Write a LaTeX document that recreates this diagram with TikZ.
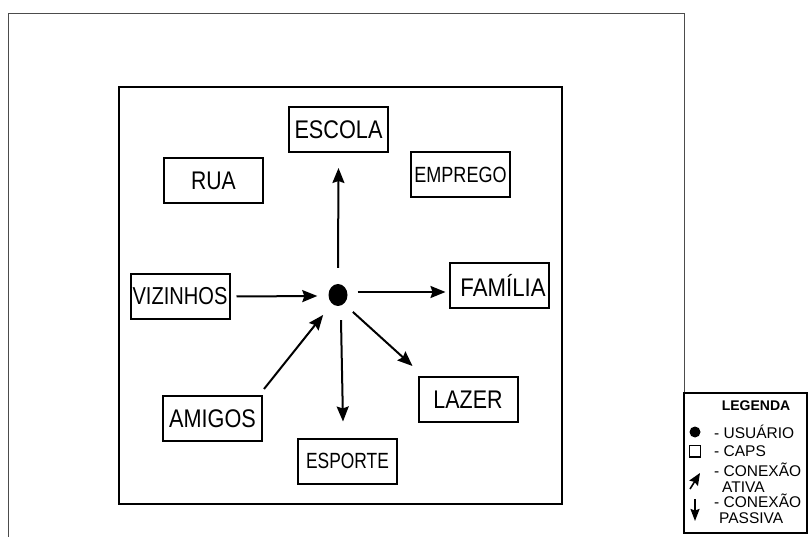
\documentclass[tikz,border=0pt]{standalone}
\usepackage{fontspec}
\setmainfont{Liberation Sans}
\usetikzlibrary{shapes.geometric,arrows.meta}
\newcommand{\nar}[2][0.85]{\scalebox{#1}[1]{#2}}
\begin{document}
\begin{tikzpicture}[x=1pt,y=-1pt,
  cbox/.style={draw,line width=2pt,minimum width=99pt,minimum height=45pt,inner sep=0pt,font=\fontsize{25.5}{30}\selectfont},
  sbox/.style={cbox,font=\fontsize{22}{26}\selectfont},
  conn/.style={line width=2pt,-{Stealth[length=15pt,width=12pt,inset=2pt]}},
  legtxt/.style={anchor=west,inner sep=0pt,font=\fontsize{15.5}{16}\selectfont},
  dotnode/.style={ellipse,fill=black,minimum width=19pt,minimum height=22pt,inner sep=0pt}]
\useasboundingbox (0,0) rectangle (809,537);
% outer frame
\draw[gray!60!black,line width=1pt] (8.5,537) -- (8.5,13.5) -- (684,13.5) -- (684,393);
% inner box
\draw[line width=2.5pt] (119,87) rectangle (562,504);
% nodes
\node[cbox] (escola) at (338.5,129.5) {\nar{ESCOLA}};
\node[cbox] (rua) at (213.5,181) {\nar[0.83]{RUA}};
\node[sbox] (emprego) at (460.5,175) {\nar[0.82]{EMPREGO}};
\node[cbox,font=\fontsize{24.5}{29}\selectfont] (viz) at (180,296.5) {\nar[0.82]{VIZINHOS}};
\node[cbox] (fam) at (499,285.5) {\hspace{8pt}\nar[0.87]{FAMÍLIA}};
\node[cbox] (ami) at (212.5,418.5) {\nar{AMIGOS}};
\node[cbox] (laz) at (468,399.5) {\nar[0.84]{LAZER}};
\node[sbox] (esp) at (347.5,461) {\nar[0.79]{ESPORTE}};
\node[dotnode] (u) at (338,295) {};
% connectors
\draw[conn] ([yshift=16pt]u.north) -- ([yshift=-15pt]escola.south);
\draw[conn] ([xshift=6pt]viz.east) -- ([xshift=-11pt,yshift=-1pt]u.west);
\draw[conn] ([xshift=10pt,yshift=3pt]u.east) -- ([xshift=-3pt,yshift=-6.5pt]fam.west);
\draw[conn] ([xshift=1pt,yshift=6pt]ami.north east) -- ([xshift=-8pt,yshift=-12pt]u.south west);
\draw[conn] ([xshift=3pt,yshift=-14pt]u.south) -- ([xshift=-4.5pt,yshift=16pt]esp.north);
\draw[conn] ([xshift=8pt,yshift=-9pt]u.south east) -- ([xshift=-5pt,yshift=10pt]laz.north west);
% legend
\draw[line width=2pt] (683.5,393) rectangle (807,533);
\node[inner sep=0pt,font=\bfseries\fontsize{14}{14}\selectfont] (legt) at (756,406) {LEGENDA};
\fill (695,432) circle (5.5pt);
\draw[line width=1.6pt] (689.5,445.5) rectangle (700.5,457);
\draw[line width=1.6pt,-{Stealth[length=12pt,width=10pt,inset=1.5pt]}] (690,489) -- (700,473);
\draw[line width=1.6pt,-{Stealth[length=12pt,width=9pt,inset=1.5pt]}] (695,499) -- (695,521);
\node[legtxt] (l1) at (714,432) {- USUÁRIO};
\node[legtxt] (l2) at (714,451) {- CAPS};
\node[legtxt] (l3) at (714,470) {- CONEXÃO};
\node[legtxt] (l4) at (722,487) {ATIVA};
\node[legtxt] (l5) at (714,501) {- CONEXÃO};
\node[legtxt] (l6) at (719,518) {PASSIVA};
\end{tikzpicture}
\end{document}
